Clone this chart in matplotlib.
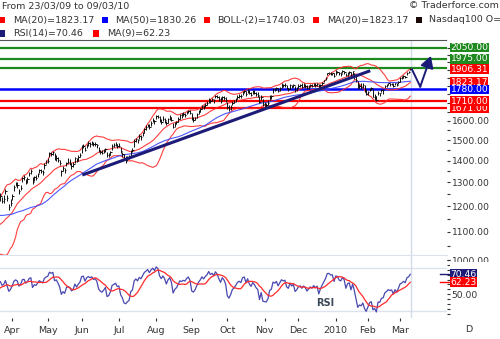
import numpy as np
import pandas as pd
import matplotlib
matplotlib.use("Agg")
import matplotlib.pyplot as plt
from matplotlib.patches import Rectangle
from matplotlib.ticker import FormatStrFormatter, FuncFormatter, NullFormatter

# closes from Jan-Mar 2009, only used to warm up the indicators
pre_closes = [1290, 1250, 1262, 1232, 1210, 1212, 1170, 1185, 1192, 1130, 1175, 1155,
              1160, 1170, 1185, 1225, 1195, 1180,
              1182, 1205, 1200, 1225, 1260, 1262, 1210, 1205, 1215, 1200, 1155, 1150,
              1130, 1120, 1080, 1120, 1115, 1100, 1110,
              1075, 1070, 1100, 1060, 1055, 1045, 1110, 1125, 1165, 1168, 1150, 1190,
              1210, 1198, 1175]

# daily closes 23/03/09 .. 09/03/10
closes = [
    1241, 1220, 1228, 1262, 1232, 1198, 1212,
    1240, 1282, 1296, 1290, 1262, 1276, 1318, 1322, 1302, 1316, 1342, 1350, 1300, 1322,
    1318, 1336, 1356, 1350, 1346, 1380, 1392,
    1398, 1436, 1432, 1440, 1408, 1414, 1402, 1386, 1350, 1364, 1356, 1388, 1394, 1390,
    1376, 1382, 1412, 1400, 1416, 1428,
    1466, 1470, 1452, 1476, 1484, 1480, 1486, 1478, 1482, 1474, 1450, 1442, 1438, 1446,
    1456, 1424, 1428, 1442, 1470, 1474, 1480, 1470,
    1472, 1444, 1432, 1410, 1406, 1412, 1416, 1446, 1452, 1494, 1506, 1500, 1520, 1516,
    1534, 1556, 1566, 1578, 1570, 1590, 1604, 1598,
    1628, 1624, 1604, 1596, 1612, 1604, 1588, 1610, 1622, 1608, 1568, 1586, 1594, 1612,
    1632, 1630, 1636, 1634, 1648, 1656, 1646,
    1612, 1608, 1618, 1636, 1652, 1664, 1682, 1676, 1690, 1700, 1722, 1714, 1722, 1716,
    1740, 1734, 1722, 1712, 1736, 1730, 1718,
    1676, 1666, 1680, 1702, 1708, 1722, 1736, 1742, 1738, 1764, 1768, 1752, 1772, 1756,
    1748, 1766, 1760, 1750, 1744, 1706, 1734, 1692,
    1690, 1688, 1700, 1736, 1742, 1782, 1778, 1788, 1772, 1790, 1808, 1804, 1808, 1786,
    1780, 1806, 1796, 1804, 1778, 1786,
    1800, 1804, 1796, 1806, 1802, 1790, 1798, 1806, 1802, 1812, 1806, 1812, 1790, 1808,
    1822, 1836, 1852, 1880.1, 1881.6, 1877.6, 1878.925, 1863,
    1890, 1889, 1880, 1878, 1894, 1888, 1866, 1884, 1888, 1868, 1892, 1870, 1836, 1790,
    1799, 1794, 1804, 1772, 1752,
    1767, 1784, 1788, 1737, 1742, 1716.375, 1758, 1755.83, 1774, 1776, 1800, 1806, 1816,
    1812, 1815, 1799, 1818, 1808, 1826,
    1848, 1852, 1861.795, 1857.205, 1884, 1890.27, 1906.31,
]

# distance of each bar's high above / low below the close
high_gap = [
    12, 18, 20, 8, 14, 10, 16,
    10, 6, 8, 12, 10, 14, 6, 10, 12, 8, 6, 10, 22, 6, 14, 8, 6, 10, 8, 6, 12,
    14, 6, 10, 8, 26, 10, 14, 16, 8, 12, 10, 6, 18, 16, 12, 10, 6, 14, 8, 10,
    8, 12, 14, 6, 10, 12, 8, 14, 10, 6, 16, 10, 12, 8, 6, 18, 10, 6, 8, 10, 12, 8,
    12, 20, 10, 22, 14, 8, 12, 6, 8, 10, 6, 8, 12, 10, 8, 6, 10, 8, 14, 10, 12, 8,
    6, 10, 22, 14, 16, 10, 12, 8, 10, 12, 22, 10, 8, 8, 6, 14, 12, 10, 8, 6, 16,
    30, 12, 6, 8, 8, 6, 8, 10, 8, 10, 6, 12, 8, 10, 8, 12, 18, 22, 6, 12, 16,
    30, 22, 10, 8, 10, 6, 8, 10, 14, 8, 10, 16, 8, 18, 14, 8, 16, 14, 18, 36, 10, 34,
    16, 14, 20, 8, 6, 6, 10, 8, 16, 6, 8, 6, 10, 20, 10, 8, 12, 6, 22, 6,
    12, 10, 20, 16, 8, 14, 6, 8, 12, 6, 10, 8, 20, 6, 6, 4, 4, 4, 6, 8, 4, 16,
    8, 6, 10, 10, 4, 8, 16, 4, 6, 20, 4, 12, 30, 40, 14, 24, 14, 34, 30,
    6, 4, 8, 44, 10, 26, 12, 4, 6, 6, 6, 4, 6, 10, 6, 18, 4, 14, 4,
    6, 8, 8, 6, 4, 6, 10,
]
low_gap = [
    22, 8, 14, 12, 10, 14, 10,
    14, 18, 10, 14, 12, 10, 16, 12, 8, 18, 14, 12, 6, 14, 8, 14, 12, 10, 12, 20, 10,
    10, 20, 12, 14, 6, 18, 10, 8, 22, 12, 16, 14, 8, 10, 14, 12, 22, 8, 16, 12,
    30, 10, 8, 18, 14, 16, 12, 8, 10, 12, 8, 10, 8, 12, 14, 6, 12, 16, 20, 10, 12, 10,
    8, 6, 14, 6, 16, 12, 10, 26, 12, 30, 18, 14, 12, 16, 12, 20, 14, 10, 12, 16, 10, 12,
    18, 10, 8, 12, 10, 14, 8, 20, 14, 10, 6, 18, 12, 16, 20, 12, 10, 14, 12, 14, 8,
    8, 12, 12, 20, 16, 14, 16, 12, 14, 10, 20, 12, 10, 14, 12, 6, 8, 10, 20, 10, 12,
    8, 12, 18, 16, 10, 14, 12, 10, 8, 20, 12, 10, 14, 6, 10, 14, 8, 10, 8, 6, 14, 8,
    14, 12, 10, 18, 16, 26, 10, 12, 8, 18, 20, 10, 12, 6, 10, 22, 10, 12, 12, 14,
    14, 10, 8, 14, 12, 10, 14, 12, 10, 14, 10, 12, 8, 18, 14, 12, 14, 10, 8, 8, 10, 4,
    22, 10, 8, 14, 14, 10, 6, 20, 10, 4, 22, 28, 8, 6, 12, 10, 16, 6, 6,
    18, 16, 10, 4, 24, 4, 12, 14, 8, 22, 10, 12, 10, 12, 10, 4, 14, 6, 16,
    20, 10, 10, 10, 14, 8, 8,
]

holidays = ["2009-04-10", "2009-05-25", "2009-07-03", "2009-09-07", "2009-11-26",
            "2009-12-25", "2010-01-01", "2010-01-18", "2010-02-15"]
month_labels = ["Apr", "May", "Jun", "Jul", "Aug", "Sep", "Oct", "Nov", "Dec",
                "2010", "Feb", "Mar"]

# drawn support / resistance levels
green_levels = [2050, 1975, 1915]
blue_levels = [1780]
red_levels = [1710, 1671]
trend_x = [48.4, 218.4]
trend_y = [1333, 1896]
swing_x = [243.0, 247.9, 254.2]
swing_y = [1905, 1797, 1993]

# ---- indicators ----
full = pd.Series(pre_closes + closes, dtype=float)
k = len(pre_closes)
ma20 = full.rolling(20).mean()
sd20 = full.rolling(20).std(ddof=0)
upper = ma20 + 2 * sd20
lower = ma20 - 2 * sd20
ma50 = full.rolling(50).mean()
delta = full.diff().fillna(0)
avg_gain = delta.clip(lower=0).ewm(alpha=1 / 14, adjust=False).mean()
avg_loss = (-delta.clip(upper=0)).ewm(alpha=1 / 14, adjust=False).mean()
rsi = 100 - 100 / (1 + avg_gain / avg_loss)
rsi_ma9 = rsi.rolling(9).mean()

dates = pd.bdate_range("2009-03-23", "2010-03-09", freq="C", holidays=holidays)
n = len(closes)
idx = np.arange(n)
month_pos = [i for i in range(1, len(dates)) if dates[i].month != dates[i - 1].month]

close = np.array(closes, dtype=float)
high = close + np.array(high_gap)
low = close - np.array(low_gap)

W, H = 500, 339
NAVY = "#1c1c78"
TXT = "#333333"


def fx(x):
    return x / W


def fy(y):
    return 1 - y / H


fig = plt.figure(figsize=(W / 100, H / 100), dpi=100)
ax = fig.add_axes([0, fy(262), fx(447), fy(39.5) - fy(262)])
ax_rsi = fig.add_axes([0, fy(318), fx(447), fy(255) - fy(318)])
XLIM = (-0.2, 263.7)

# ---- price panel ----
ax.set_yscale("log")
ax.set_ylim(993.6, 2107)
ax.set_xlim(*XLIM)
for v in green_levels:
    ax.axhline(v, color="#1e8a1e", lw=1.6, zorder=1)
for v in blue_levels:
    ax.axhline(v, color="#0000ff", lw=1.8, zorder=1)
for v in red_levels:
    ax.axhline(v, color="#ff0000", lw=1.6, zorder=1)
ax.axvline(n - 0.4, color="#d3dae8", lw=1, zorder=0)

ax.plot(idx, upper[k:], color="#ff2a2a", lw=0.8, alpha=0.9, zorder=2)
ax.plot(idx, lower[k:], color="#ff2a2a", lw=0.8, alpha=0.9, zorder=2)
ax.plot(idx, ma20[k:], color="#ff2a2a", lw=0.8, alpha=0.9, zorder=2)
ax.plot(idx, ma50[k:], color="#3a46ff", lw=0.8, alpha=0.9, zorder=2)

ax.vlines(idx, low, high, color="#111111", lw=0.7, zorder=3)
ax.hlines(close, idx, idx + 0.8, color="#111111", lw=0.7, zorder=3)

ax.plot(trend_x, trend_y, color=NAVY, lw=2.2, solid_capstyle="butt", zorder=4)
ax.plot(swing_x[:2], swing_y[:2], color=NAVY, lw=1.4, zorder=4)
ax.annotate("", xy=(swing_x[2], swing_y[2]), xytext=(swing_x[1], swing_y[1]),
            arrowprops=dict(arrowstyle="-|>,head_length=0.7,head_width=0.4",
                            color=NAVY, lw=1.4, mutation_scale=10,
                            shrinkA=0, shrinkB=0), zorder=4)

# labels at 1700..2000 sit under the level boxes, so leave them blank
hidden = {1700, 1800, 1900, 2000}
ax.yaxis.tick_right()
ax.set_yticks(np.arange(1000, 2001, 100))
ax.set_yticks(np.arange(1050, 2051, 100), minor=True)
ax.yaxis.set_major_formatter(
    FuncFormatter(lambda v, pos: "" if round(v) in hidden else f"{v:.2f}"))
ax.yaxis.set_minor_formatter(NullFormatter())
ax.tick_params(axis="y", which="both", length=2.2, width=0.8, color=TXT, pad=1.2,
               labelsize=6.6, labelcolor=TXT)
ax.set_xticks([])
for s in ["left", "right", "bottom"]:
    ax.spines[s].set_visible(False)
ax.spines["top"].set_color("#555555")
ax.spines["top"].set_linestyle((0, (1.5, 1)))
ax.spines["top"].set_linewidth(0.8)


def value_box(axis, value, text, color):
    axis.text(1.008, value, text, transform=axis.get_yaxis_transform(),
              ha="left", va="center", fontsize=6.6, color="white", clip_on=False,
              bbox=dict(boxstyle="square,pad=0.04", fc=color, ec="none"), zorder=6)


value_box(ax, red_levels[1], f"{red_levels[1]:.2f}", "#ff0000")
value_box(ax, red_levels[0], f"{red_levels[0]:.2f}", "#ff0000")
value_box(ax, ma20.iloc[-1], f"{ma20.iloc[-1]:.2f}", "#ff0000")
value_box(ax, blue_levels[0], f"{blue_levels[0]:.2f}", "#0000ff")
value_box(ax, close[-1], f"{close[-1]:.2f}", "#ff0000")
value_box(ax, green_levels[1], f"{green_levels[1]:.2f}", "#1e8a1e")
value_box(ax, green_levels[0], f"{green_levels[0]:.2f}", "#1e8a1e")

# ---- RSI panel ----
ax_rsi.set_facecolor("white")
ax_rsi.set_xlim(*XLIM)
ax_rsi.set_ylim(25.4, 90.36)
for g in [76.95, 32.6]:
    ax_rsi.axhline(g, color="#dde3ee", lw=1, zorder=0)
ax_rsi.axvline(n - 0.4, color="#d3dae8", lw=1, zorder=0)
ax_rsi.plot(idx, rsi[k:], color="#4848b0", lw=0.9, zorder=2)
ax_rsi.plot(idx, rsi_ma9[k:], color="#ff2a2a", lw=0.9, zorder=2)
ax_rsi.text(191.9, 40.9, "RSI", ha="center", va="center", fontsize=7,
            fontweight="bold", color="#3c4858")

ax_rsi.yaxis.tick_right()
ax_rsi.set_yticks([50])
ax_rsi.set_yticks([v for v in range(30, 90, 5) if v != 50], minor=True)
ax_rsi.yaxis.set_major_formatter(FormatStrFormatter("%.2f"))
ax_rsi.yaxis.set_minor_formatter(NullFormatter())
ax_rsi.tick_params(axis="y", which="both", length=2.2, width=0.8, color=TXT, pad=1.2,
                   labelsize=6.6, labelcolor=TXT)
ax_rsi.set_xticks(month_pos)
ax_rsi.set_xticklabels(month_labels)
ax_rsi.tick_params(axis="x", length=2.5, width=0.8, color=TXT, pad=3.2,
                   labelsize=6.8, labelcolor=TXT)
for s in ["left", "right", "bottom"]:
    ax_rsi.spines[s].set_visible(False)
ax_rsi.spines["top"].set_color("#dde3ee")

rsi_last = rsi.iloc[-1]
ma9_last = rsi_ma9.iloc[-1]
for v, c in [(rsi_last, NAVY), (ma9_last, "#ff0000")]:
    ax_rsi.plot([259.7, 265.0], [v, v], color=c, lw=1, clip_on=False, zorder=5)
value_box(ax_rsi, rsi_last, f"{rsi_last:.2f}", NAVY)
value_box(ax_rsi, ma9_last, f"{ma9_last:.2f}", "#ff0000")

# hide the lower half of the 1000.00 label behind the RSI panel
fig.patches.append(Rectangle((fx(450), fy(268)), fx(50), 6.5 / H,
                             transform=fig.transFigure, fc="white", ec="none", zorder=1))

# ---- header ----
fig.text(fx(2), fy(6), "From 23/03/09 to 09/03/10", fontsize=6.8, color=TXT,
         ha="left", va="center")
fig.text(fx(498.5), fy(6), "\u00a9 Traderforce.com", fontsize=6.8, color=TXT,
         ha="right", va="center")
legend_rows = [
    (20, [(-1, 13.3, "#ff0000", f"MA(20)={ma20.iloc[-1]:.2f}"),
          (101.7, 115, "#0000ff", f"MA(50)={ma50.iloc[-1]:.2f}"),
          (204, 217.3, "#ff0000", f"BOLL-(2)={lower.iloc[-1]:.2f}"),
          (313, 327, "#ff0000", f"MA(20)={ma20.iloc[-1]:.2f}"),
          (415.7, 429, "#1a0808", "Nasdaq100 O=")]),
    (33.5, [(-1, 13.3, NAVY, f"RSI(14)={rsi_last:.2f}"),
            (93, 107.3, "#ff0000", f"MA(9)={ma9_last:.2f}")]),
]
for y, items in legend_rows:
    for sx, tx, col, label in items:
        fig.patches.append(Rectangle((fx(sx), fy(y + 3)), fx(6), 6 / H,
                                     transform=fig.transFigure, fc=col, ec="none"))
        fig.text(fx(tx), fy(y), label, fontsize=6.8, color=TXT, ha="left", va="center")

fig.text(fx(469), fy(330), "D", fontsize=6.8, color=TXT, ha="center", va="center")

fig.savefig("out.png", dpi=100)
